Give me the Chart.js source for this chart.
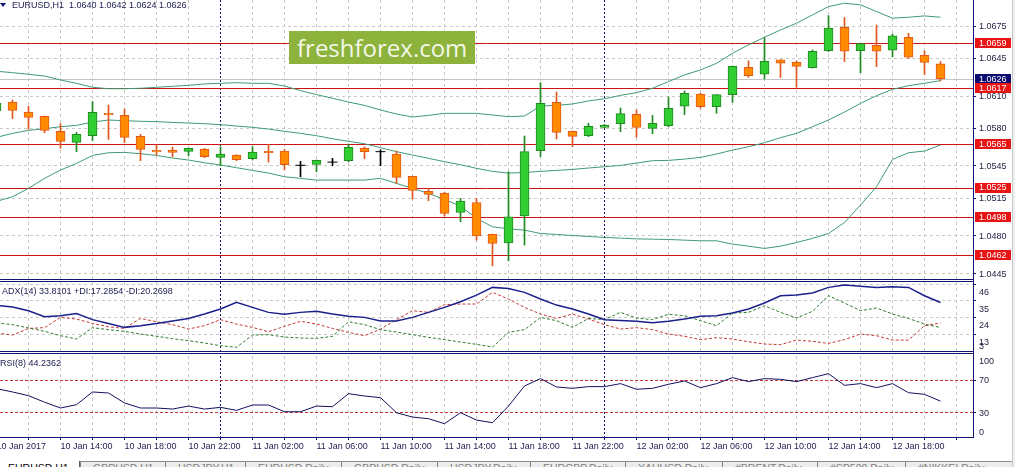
<!DOCTYPE html>
<html>
<head>
<meta charset="utf-8">
<title>EURUSD,H1</title>
<script src="https://cdn.jsdelivr.net/npm/chart.js@4.4.1/dist/chart.umd.min.js"></script>
<style>
  html, body { margin: 0; padding: 0; }
  body { width: 1015px; height: 467px; position: relative; overflow: hidden; background: #fff;
         font-family: "Liberation Sans", Arial, sans-serif; }
  canvas { position: absolute; left: 0; }
  .line { position: absolute; background: #141478; }
  .label { position: absolute; font-size: 9px; line-height: 11px; color: #1c1c50; white-space: nowrap; }
  #tri { position: absolute; left: 0; top: 3px; width: 0; height: 0;
         border-left: 3px solid transparent; border-right: 3px solid transparent; border-top: 4px solid #141478; }
  #logo { position: absolute; left: 289px; top: 31px; width: 186px; height: 33px; background: #8db33c;
          color: #f3f7e9; font-family: "Open Sans", sans-serif; font-size: 24px; line-height: 33px; text-indent: 8px; }
  #edge { position: absolute; left: 1012px; top: 0; width: 3px; height: 467px; background: #f0f0f0; border-left: 1px solid #c8c8c8; }
  #tabs { position: absolute; left: 0; top: 461px; width: 1012px; height: 6px; background: #ececec; border-top: 1px solid #909090; }
  .tab { position: absolute; top: 0; height: 8px; font-size: 10.5px; line-height: 12px; color: #808080;
         border-left: 1px solid #808080; padding-left: 12px; white-space: nowrap; }
  .tab.on { top: -1px; height: 9px; width: 71px; background: #fff; color: #000; border-left: none;
            border-right: 1px solid #606060; padding-left: 8px; padding-top: 1px; }
</style>
</head>
<body>
<canvas id="main" width="1015" height="279" style="top:0"></canvas>
<canvas id="adx" width="1015" height="69" style="top:282px"></canvas>
<canvas id="rsi" width="1015" height="101" style="top:356px"></canvas>

<div class="line" style="left:0;top:279px;width:973px;height:1px"></div>
<div class="line" style="left:0;top:281px;width:973px;height:1px"></div>
<div class="line" style="left:0;top:351px;width:973px;height:1px"></div>
<div class="line" style="left:0;top:353px;width:973px;height:1px"></div>
<div class="line" style="left:973px;top:0;width:1px;height:438px"></div>
<div id="edge"></div>

<div id="tri"></div>
<div class="label" style="left:12px;top:0">EURUSD,H1&nbsp;&nbsp;1.0640 1.0642 1.0624 1.0626</div>
<div class="label" style="left:2px;top:286px">ADX(14) 33.8101 +DI:17.2854 -DI:20.2698</div>
<div class="label" style="left:0;top:358px">RSI(8) 44.2362</div>
<div id="logo">freshforex.com</div>

<div id="tabs">
  <div class="tab on" style="left:0">EURUSD,H1</div>
  <div class="tab" style="left:80px">GBPUSD,H1</div>
  <div class="tab" style="left:165px">USDJPY,H1</div>
  <div class="tab" style="left:245px">EURUSD,Daily</div>
  <div class="tab" style="left:341px">GBPUSD,Daily</div>
  <div class="tab" style="left:437px">USDJPY,Daily</div>
  <div class="tab" style="left:530px">EURGBP,Daily</div>
  <div class="tab" style="left:625px">XAUUSD,Daily</div>
  <div class="tab" style="left:722px">#BRENT,Daily</div>
  <div class="tab" style="left:817px">#SP500,Daily</div>
  <div class="tab" style="left:905px">#NIKKEI,Daily</div>
</div>

<script>
// time axis: one label every 4 bars, first bar = 10 Jan 10:00
const timeLabels = ["10 Jan 2017", "10 Jan 14:00", "10 Jan 18:00", "10 Jan 22:00", "11 Jan 02:00",
  "11 Jan 06:00", "11 Jan 10:00", "11 Jan 14:00", "11 Jan 18:00", "11 Jan 22:00", "12 Jan 02:00",
  "12 Jan 06:00", "12 Jan 10:00", "12 Jan 14:00", "12 Jan 18:00"];
const daySeparators = [14, 38]; // bars at 11 Jan 00:00 and 12 Jan 00:00

const opens = [1.05964, 1.06044, 1.05951, 1.05911, 1.05772, 1.05669, 1.05731, 1.05939, 1.0592, 1.05725,
  1.05595, 1.05598, 1.05586, 1.05607, 1.0553, 1.05552, 1.05517, 1.05586, 1.05589, 1.05456,
  1.05465, 1.05486, 1.05499, 1.05614, 1.05583, 1.05561, 1.05353, 1.05214, 1.05198, 1.05018,
  1.05111, 1.04814, 1.04736, 1.04987, 1.05592, 1.06041, 1.05772, 1.05731, 1.05809, 1.05843,
  1.0593, 1.058, 1.05824, 1.06005, 1.06117, 1.06001, 1.06113, 1.06367, 1.06302, 1.06435,
  1.06416, 1.06364, 1.06522, 1.06739, 1.06522, 1.06571, 1.06525, 1.06646, 1.06478, 1.0640];
const highs = [1.06063, 1.06063, 1.06005, 1.05914, 1.05843, 1.05762, 1.06048, 1.06017, 1.05979, 1.05744,
  1.05645, 1.05626, 1.05617, 1.05614, 1.05629, 1.05555, 1.05629, 1.05651, 1.05604, 1.05493,
  1.05505, 1.05521, 1.05654, 1.05629, 1.05601, 1.05589, 1.05356, 1.05241, 1.05207, 1.05149,
  1.05149, 1.04817, 1.05397, 1.05728, 1.06224, 1.06137, 1.05775, 1.05846, 1.05837, 1.05989,
  1.0597, 1.0592, 1.06091, 1.06147, 1.06125, 1.06113, 1.0638, 1.06426, 1.06643, 1.06438,
  1.06426, 1.06528, 1.06847, 1.06829, 1.0659, 1.0676, 1.06677, 1.06683, 1.06519, 1.0642];
const lows = [1.0594, 1.0589, 1.0579, 1.05759, 1.05614, 1.05583, 1.05685, 1.05697, 1.05666, 1.05499,
  1.05552, 1.05536, 1.05545, 1.05527, 1.05452, 1.05499, 1.05505, 1.05486, 1.05415, 1.0535,
  1.05396, 1.05452, 1.0549, 1.05517, 1.05452, 1.05288, 1.05142, 1.05127, 1.04984, 1.04932,
  1.04761, 1.04522, 1.04569, 1.04715, 1.05536, 1.057, 1.05629, 1.05722, 1.05803, 1.05769,
  1.05716, 1.0575, 1.05815, 1.05927, 1.05986, 1.05939, 1.06041, 1.06274, 1.06258, 1.06271,
  1.06181, 1.0636, 1.06513, 1.0642, 1.06317, 1.06373, 1.06463, 1.06447, 1.06299, 1.0624];
const closes = [1.06032, 1.05967, 1.05902, 1.05781, 1.05679, 1.05744, 1.05948, 1.05924, 1.05716, 1.05604,
  1.0558, 1.05577, 1.05614, 1.05536, 1.05561, 1.05508, 1.05579, 1.05573, 1.05462, 1.05456,
  1.05502, 1.05486, 1.05623, 1.05583, 1.05583, 1.05344, 1.05223, 1.05186, 1.05009, 1.05124,
  1.04801, 1.0473, 1.04978, 1.05583, 1.06032, 1.05762, 1.05725, 1.05818, 1.05827, 1.05936,
  1.05809, 1.05846, 1.05986, 1.06126, 1.06002, 1.06113, 1.06376, 1.06289, 1.06423, 1.06404,
  1.06376, 1.06516, 1.0673, 1.06516, 1.06587, 1.06516, 1.06658, 1.0646, 1.06413, 1.0626];

const bbUpper = [1.06330, 1.06317, 1.06302, 1.06286, 1.06249, 1.06218, 1.06181, 1.06168, 1.06168, 1.06172,
  1.06181, 1.06190, 1.06199, 1.06212, 1.06218, 1.06224, 1.06218, 1.06218, 1.06193, 1.06150,
  1.06113, 1.06079, 1.06044, 1.06013, 1.05970, 1.05933, 1.05905, 1.05920, 1.05939, 1.05939,
  1.05939, 1.05924, 1.05908, 1.05914, 1.06007, 1.06013, 1.06026, 1.06054, 1.06075, 1.06106,
  1.06131, 1.06172, 1.06234, 1.06296, 1.06342, 1.06404, 1.06497, 1.06575, 1.06646, 1.06714,
  1.06776, 1.06854, 1.06931, 1.06962, 1.06947, 1.06885, 1.06823, 1.06832, 1.06844, 1.06832];
const bbMiddle = [1.05716, 1.05753, 1.05781, 1.05796, 1.05815, 1.05827, 1.05858, 1.05877, 1.05871, 1.05865,
  1.05862, 1.05855, 1.05849, 1.05843, 1.05834, 1.05821, 1.05809, 1.05793, 1.05772, 1.05753,
  1.05731, 1.05703, 1.05679, 1.05657, 1.05620, 1.05583, 1.05552, 1.05521, 1.05490, 1.05462,
  1.05428, 1.05400, 1.05384, 1.05390, 1.05400, 1.05409, 1.05418, 1.05431, 1.05443, 1.05455,
  1.05477, 1.05499, 1.05502, 1.05514, 1.05530, 1.05561, 1.05598, 1.05629, 1.05666, 1.05713,
  1.05753, 1.05815, 1.05877, 1.05951, 1.06032, 1.06103, 1.06162, 1.06196, 1.06218, 1.06243];
const bbLower = [1.05121, 1.05164, 1.05242, 1.05335, 1.05412, 1.05474, 1.05548, 1.05573, 1.05576, 1.05564,
  1.05548, 1.05524, 1.05505, 1.05480, 1.05459, 1.05434, 1.05409, 1.05384, 1.05350, 1.05335,
  1.05319, 1.05319, 1.05319, 1.05319, 1.05335, 1.05288, 1.05242, 1.05195, 1.05139, 1.05077,
  1.04963, 1.04885, 1.04866, 1.04854, 1.04823, 1.04814, 1.04804, 1.04795, 1.04786, 1.04780,
  1.04773, 1.04770, 1.04767, 1.04761, 1.04755, 1.04755, 1.04724, 1.04705, 1.04684, 1.04705,
  1.04739, 1.04777, 1.04823, 1.04925, 1.05087, 1.05257, 1.05511, 1.05573, 1.05589, 1.05645];

const levels = [1.0659, 1.0617, 1.0565, 1.0525, 1.0498, 1.0462];
const bid = 1.0626;
const priceTicks = [1.0675, 1.0645, 1.0610, 1.0580, 1.0545, 1.0515, 1.0480, 1.0445];

const adx = [31.9, 30.8, 28.4, 24.4, 25.1, 26.6, 22.5, 20.0, 17.4, 18.5,
  20.0, 21.6, 23.3, 26.2, 29.5, 33.9, 30.6, 27.3, 26.0, 27.3,
  28.0, 26.2, 24.7, 24.0, 21.6, 21.6, 24.0, 27.3, 30.6, 34.3,
  38.7, 43.8, 43.1, 40.5, 36.1, 32.1, 29.5, 26.2, 22.5, 22.0,
  21.4, 20.5, 21.4, 22.9, 24.7, 25.1, 26.9, 29.5, 33.5, 38.3,
  38.7, 40.1, 43.8, 45.3, 44.5, 43.8, 44.2, 43.8, 38.3, 33.81];
const plusDI = [20.3, 19.2, 17.0, 14.8, 11.9, 9.7, 17.2, 15.9, 14.8, 13.0,
  11.5, 9.9, 8.6, 7.1, 5.3, 4.2, 12.3, 12.6, 11.0, 10.4,
  10.1, 11.5, 21.1, 19.2, 15.9, 14.3, 12.6, 10.8, 9.3, 7.7,
  6.2, 4.4, 14.1, 15.9, 24.0, 21.8, 17.4, 23.3, 22.5, 27.3,
  23.6, 22.5, 26.0, 25.1, 21.8, 18.5, 26.9, 27.3, 31.7, 27.3,
  23.6, 28.0, 38.3, 33.5, 28.4, 30.2, 26.2, 23.3, 19.6, 17.29];
const minusDI = [13.7, 12.3, 16.7, 17.2, 24.0, 22.9, 20.0, 17.8, 16.7, 23.3,
  21.1, 19.2, 16.3, 18.5, 22.5, 19.6, 17.4, 14.5, 18.1, 21.4,
  19.6, 16.7, 14.1, 11.9, 16.3, 22.5, 28.4, 27.3, 32.4, 32.8,
  32.8, 40.5, 36.1, 30.6, 26.2, 23.3, 26.2, 22.9, 19.2, 16.3,
  17.2, 15.9, 13.0, 11.5, 9.3, 10.6, 9.7, 7.9, 6.4, 6.0,
  9.0, 8.2, 6.8, 9.3, 13.0, 11.9, 9.0, 9.0, 18.5, 20.27];
const adxGrid = [46, 35, 24, 13];
const adxTicks = [46, 35, 24, 13, 3];

const rsi = [59.7, 55.6, 51.0, 43.0, 35.8, 39.9, 55.6, 54.3, 42.0, 35.8,
  35.8, 34.5, 38.2, 34.5, 36.6, 32.9, 39.5, 39.5, 31.2, 31.2,
  38.2, 37.4, 53.5, 50.6, 48.6, 30.0, 24.6, 22.6, 16.4, 30.0,
  20.9, 17.6, 38.2, 63.0, 72.1, 61.8, 60.1, 62.2, 62.2, 65.9,
  58.9, 60.1, 65.1, 69.2, 60.9, 65.9, 73.3, 68.4, 72.1, 71.2,
  68.4, 73.3, 78.2, 63.8, 65.9, 60.9, 65.9, 54.7, 52.7, 44.24];
const rsiLevels = [70, 30];
const rsiTicks = [100, 70, 30, 0];

const NAVY = '#141478';
const GRID = '#c8c8c8';
const FONT = '"Liberation Sans", Arial, sans-serif';
Chart.defaults.font.family = FONT;
Chart.defaults.font.size = 9;

const bars = closes.map((_, i) => i);
const kind = i => closes[i] > opens[i] ? 1 : (closes[i] < opens[i] ? -1 : 0);
// index by kind + 1: bear, doji, bull
const bodyFill = i => ['#ff8c00', 'rgba(0,0,0,0)', '#32cd32'][kind(i) + 1];
const edgeColor = i => ['#e2581c', '#000000', '#1f8a1f'][kind(i) + 1];

// right-hand price / value labels, optionally on a coloured box, kept inside the pane
const axisLabels = {
  id: 'axisLabels',
  afterDraw(chart, args, opts) {
    const { ctx, chartArea: a, scales: { y } } = chart;
    ctx.save();
    ctx.font = '9px ' + FONT;
    ctx.textBaseline = 'middle';
    opts.items.forEach(it => {
      let py = y.getPixelForValue(it.value) + (opts.dy || 0);
      if (opts.clamp) py = Math.min(Math.max(py, a.top + 5), a.bottom - 5);
      const x = a.right + 6;
      if (it.bg) {
        const w = ctx.measureText(it.text).width;
        ctx.fillStyle = it.bg;
        ctx.fillRect(x - 4, Math.round(py) - 5, Math.ceil(w) + 8, 10);
      }
      ctx.fillStyle = it.fg || '#1c1c40';
      ctx.fillText(it.text, x, py + 0.5);
    });
    ctx.restore();
  }
};

// horizontal levels drawn under the candles
const priceLines = {
  id: 'priceLines',
  beforeDatasetsDraw(chart, args, opts) {
    const { ctx, chartArea: a, scales: { y } } = chart;
    ctx.save();
    ctx.lineWidth = 1;
    opts.lines.forEach(l => {
      const py = Math.round(y.getPixelForValue(l.value)) + 0.5;
      ctx.strokeStyle = l.color;
      ctx.beginPath();
      ctx.moveTo(a.left, py);
      ctx.lineTo(a.right, py);
      ctx.stroke();
    });
    ctx.restore();
  }
};

function xAxis(showLabels) {
  return {
    type: 'linear', min: 0.21875, max: 61.03125, offset: false,
    afterBuildTicks: s => {
      s.ticks = [];
      for (let v = 0; v <= 60; v += 2) s.ticks.push({ value: v });
    },
    afterFit: s => { s.height = showLabels ? 20 : 0; s.paddingLeft = 0; s.paddingRight = 0; },
    grid: {
      offset: false,
      color: c => (c.tick && daySeparators.includes(c.tick.value)) ? NAVY : GRID,
      drawTicks: showLabels, tickLength: 3, tickColor: NAVY
    },
    border: {
      display: showLabels, color: NAVY,
      dash: c => c.tick ? (daySeparators.includes(c.tick.value) ? [2, 2] : [3, 3]) : []
    },
    ticks: {
      display: showLabels, autoSkip: false, maxRotation: 0, align: 'start', padding: 1, color: '#1c1c50',
      callback: v => v % 4 === 0 ? (timeLabels[v / 4] || '') : ''
    }
  };
}

function yAxis(min, max, grid, color, dash) {
  return {
    type: 'linear', position: 'right', min: min, max: max,
    afterBuildTicks: s => { s.ticks = grid.map(v => ({ value: v })); },
    afterFit: s => { s.width = 42; s.paddingTop = 0; s.paddingBottom = 0; },
    grid: { color: color, drawTicks: true, tickLength: 3, tickColor: NAVY },
    border: { display: false, dash: c => c.tick ? dash : [] },
    ticks: { display: false }
  };
}

const common = {
  responsive: false, animation: false, events: [],
  layout: { padding: 0, autoPadding: false },
  plugins: { legend: { display: false }, tooltip: { enabled: false } }
};

function band(values) {
  return {
    type: 'line', data: bars.map(i => ({ x: i, y: values[i] })),
    borderColor: '#3f9a78', borderWidth: 1, pointRadius: 0, tension: 0, order: 3
  };
}

const mainLabels = priceTicks.map(v => ({ value: v, text: v.toFixed(4) }))
  .concat([{ value: bid, text: bid.toFixed(4), bg: '#0c0c70', fg: '#ffffff' }])
  .concat(levels.map(v => ({ value: v, text: v.toFixed(4), bg: '#e81414', fg: '#ffffff' })));

new Chart(document.getElementById('main'), {
  type: 'bar',
  data: {
    datasets: [
      {
        type: 'bar', data: bars.map(i => ({ x: i, y: [opens[i], closes[i]] })),
        backgroundColor: c => bodyFill(c.dataIndex),
        borderColor: c => kind(c.dataIndex) ? edgeColor(c.dataIndex) : 'rgba(0,0,0,0)',
        borderWidth: 1, borderSkipped: false, barThickness: 9, grouped: false, order: 1
      },
      {
        type: 'bar', data: bars.map(i => ({ x: i, y: [lows[i], highs[i]] })),
        backgroundColor: c => edgeColor(c.dataIndex), borderWidth: 0, barThickness: 1, grouped: false, order: 2
      },
      {
        type: 'scatter', data: bars.filter(i => kind(i) === 0).map(i => ({ x: i, y: closes[i] })),
        pointStyle: 'line', pointRadius: 5, borderColor: '#000', borderWidth: 1, order: 0
      },
      band(bbUpper), band(bbMiddle), band(bbLower)
    ]
  },
  options: {
    ...common,
    plugins: {
      ...common.plugins,
      axisLabels: { items: mainLabels, dy: 0, clamp: false },
      priceLines: { lines: [{ value: bid, color: '#c4c4c4' }].concat(levels.map(v => ({ value: v, color: '#cc1414' }))) }
    },
    scales: { x: xAxis(false), y: yAxis(1.04400, 1.06992, priceTicks, GRID, [3, 3]) }
  },
  plugins: [priceLines, axisLabels]
});

function line(values, color, width, dash) {
  return {
    data: bars.map(i => ({ x: i, y: values[i] })),
    borderColor: color, borderWidth: width, borderDash: dash, pointRadius: 0, tension: 0
  };
}

new Chart(document.getElementById('adx'), {
  type: 'line',
  data: { datasets: [line(adx, '#1a1f8c', 1.5, []), line(plusDI, '#2f7d2f', 1, [3, 2]), line(minusDI, '#c43a3a', 1, [3, 2])] },
  options: {
    ...common,
    plugins: { ...common.plugins, axisLabels: { items: adxTicks.map(v => ({ value: v, text: String(v) })), dy: 8, clamp: true } },
    scales: { x: xAxis(false), y: yAxis(1.8, 47.35, adxGrid, GRID, [3, 3]) }
  },
  plugins: [axisLabels]
});

new Chart(document.getElementById('rsi'), {
  type: 'line',
  data: { datasets: [line(rsi, '#101060', 1, [])] },
  options: {
    ...common,
    plugins: { ...common.plugins, axisLabels: { items: rsiTicks.map(v => ({ value: v, text: String(v) })), dy: 0, clamp: true } },
    scales: { x: xAxis(true), y: yAxis(0, 100, rsiLevels, '#c43a3a', [3, 2]) }
  },
  plugins: [axisLabels]
});
</script>
</body>
</html>
